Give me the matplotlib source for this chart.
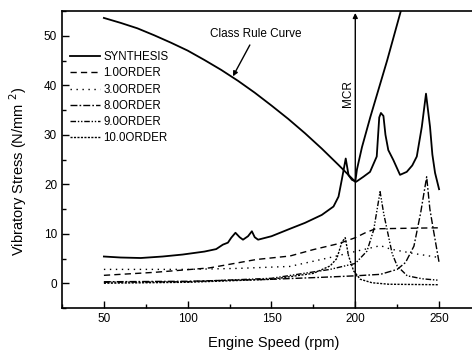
import numpy as np
import matplotlib
matplotlib.use("Agg")
import matplotlib.pyplot as plt
from matplotlib.ticker import MultipleLocator

plt.rcParams['font.family'] = ['Liberation Sans', 'DejaVu Sans']

# values (speed in rpm, stress in N/mm2)
rule_speed = [50, 60, 70, 80, 90, 100, 110, 120, 130, 140, 150, 160, 170, 180, 190, 200,
              201, 204, 209, 219, 228]
rule_stress = [53.6, 52.6, 51.5, 50.1, 48.6, 47.0, 45.1, 43.1, 40.9, 38.5, 35.9, 33.2, 30.3,
               27.2, 23.9, 20.5, 23.0, 27.5, 33.6, 45.0, 56.0]

syn_speed = [50, 60, 72, 85, 97, 110, 117, 121, 124, 126, 128.5, 131, 133, 136, 138.3, 140, 142,
             150, 161, 170, 180, 187, 190, 192, 194.3, 196, 198, 200.5, 204.8, 208.8, 212.8, 214.3,
             215.3, 216.8, 218, 219.7, 222.7, 226.7, 230.7, 234, 236.7, 239.7, 242.2, 244.6, 246,
             247.6, 250]
syn_stress = [5.4, 5.2, 5.1, 5.4, 5.8, 6.4, 6.9, 7.8, 8.2, 9.2, 10.2, 9.3, 8.8, 9.5, 10.5, 9.3, 8.8,
              9.5, 11.0, 12.2, 13.8, 15.5, 17.5, 21.0, 25.2, 21.8, 20.9, 20.5, 21.5, 22.5, 25.6, 33.5,
              34.4, 33.8, 30.0, 26.9, 24.9, 21.9, 22.5, 23.8, 25.6, 31.6, 38.3, 31.6, 26.0,
              22.3, 19.0]

o1_speed = [50, 80, 113, 141, 161, 175, 190, 200, 206, 212, 230, 250]
o1_stress = [1.6, 2.2, 3.1, 4.8, 5.5, 6.8, 8.0, 9.2, 10.2, 11.0, 11.1, 11.2]

o3_speed = [50, 100, 130, 161, 185, 195, 201, 210, 215, 221, 235, 250]
o3_stress = [2.8, 2.8, 3.0, 3.4, 5.2, 6.0, 6.5, 7.2, 7.6, 6.9, 6.0, 5.2]

o8_speed = [50, 100, 150, 180, 200, 215, 225, 230, 235, 239, 242.6, 244.5, 246.6, 250]
o8_stress = [0.3, 0.4, 0.8, 1.2, 1.5, 1.8, 2.8, 4.2, 7.5, 14.2, 21.5, 15.0, 10.8, 4.2]

o9_speed = [50, 100, 150, 185, 200, 207, 211, 214.8, 217, 219, 222, 225, 231, 240, 250]
o9_stress = [0.2, 0.3, 1.0, 2.8, 4.0, 6.5, 10.8, 18.5, 14.0, 10.8, 6.0, 3.5, 1.5, 0.9, 0.6]

o10_speed = [50, 100, 150, 175, 185, 189, 192, 194, 196, 199, 203, 210, 220, 250]
o10_stress = [0.0, 0.2, 0.8, 2.0, 3.5, 5.0, 8.3, 9.2, 5.5, 2.5, 0.8, 0.1, -0.2, -0.3]

fig = plt.figure(figsize=(4.72, 3.56), dpi=100)
ax = fig.add_axes([62 / 472, 48 / 356, 424 / 472, 297 / 356])

ax.plot(rule_speed, rule_stress, color='k', lw=1.3)
ax.plot(syn_speed, syn_stress, color='k', lw=1.3, label='SYNTHESIS')
ax.plot(o1_speed, o1_stress, color='k', lw=1.0, dashes=(4.5, 3), label='1.0ORDER')
ax.plot(o3_speed, o3_stress, color='k', lw=1.0, dashes=(1, 3.3), label='3.0ORDER')
ax.plot(o8_speed, o8_stress, color='k', lw=1.0, dashes=(5, 1.5, 1.2, 1.5), label='8.0ORDER')
ax.plot(o9_speed, o9_stress, color='k', lw=1.0, dashes=(4, 1.3, 1, 1.3, 1, 1.3), label='9.0ORDER')
ax.plot(o10_speed, o10_stress, color='k', lw=1.0, dashes=(1.5, 1), label='10.0ORDER')

# MCR line with arrow
ax.annotate('', xy=(200, 54.6), xytext=(200, -5),
            arrowprops=dict(arrowstyle='-|>', color='k', lw=1.0, mutation_scale=7,
                            shrinkA=0, shrinkB=0))
ax.text(195.7, 38.3, 'MCR', rotation=90, ha='center', va='center', fontsize=8.5)

ax.annotate('Class Rule Curve', xy=(127, 41.8), xytext=(140.7, 50.4),
            ha='center', va='center', fontsize=8.5,
            arrowprops=dict(arrowstyle='-|>', color='k', lw=1.0, mutation_scale=7,
                            shrinkA=2, shrinkB=0))

ax.set_xlim(25, 278)
ax.set_ylim(-5, 55)
ax.xaxis.set_major_locator(MultipleLocator(50))
ax.xaxis.set_minor_locator(MultipleLocator(25))
ax.yaxis.set_major_locator(MultipleLocator(10))
ax.yaxis.set_minor_locator(MultipleLocator(5))
ax.tick_params(which='both', direction='in', labelsize=8.5, width=1.0)
ax.tick_params(which='major', length=5)
ax.tick_params(which='minor', length=3)
ax.spines['right'].set_visible(False)
for s in ['left', 'bottom', 'top']:
    ax.spines[s].set_linewidth(1.2)

ax.set_xticks([50, 100, 150, 200, 250])
ax.set_xlabel('Engine Speed (rpm)', fontsize=10.5, labelpad=8)
ax.set_ylabel('Vibratory Stress (N/mm $^{2}$)', fontsize=10.5)
ax.yaxis.set_label_coords(-0.078, 0.46)

ax.legend(loc='upper left', bbox_to_anchor=(0.02, 0.865), frameon=False, fontsize=8.3,
          borderpad=0, borderaxespad=0, handlelength=2.55, handletextpad=0.3,
          labelspacing=0.37)

fig.savefig('out.png', dpi=100)
